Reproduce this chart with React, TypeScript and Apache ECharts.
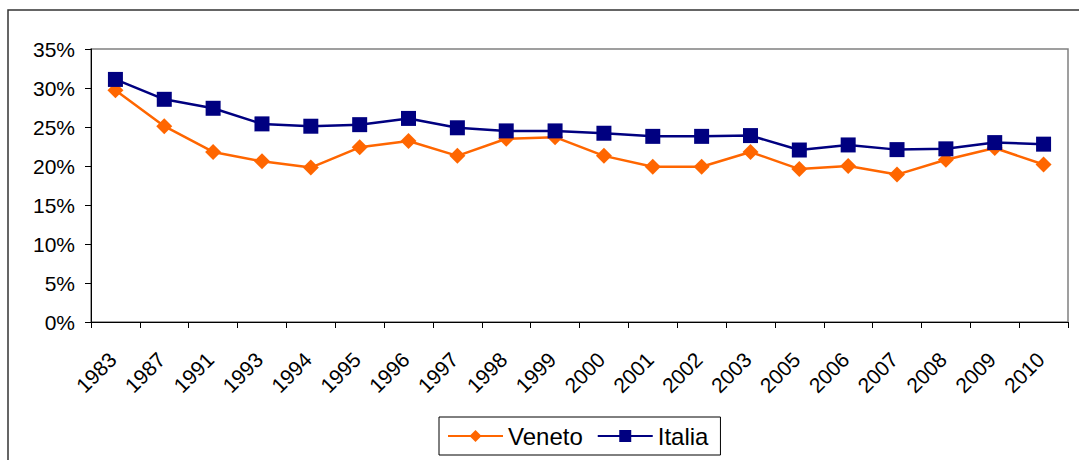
import React, { useEffect, useRef } from "react";
import * as echarts from "echarts";

const years = ["1983", "1987", "1991", "1993", "1994", "1995", "1996", "1997", "1998", "1999", "2000", "2001", "2002", "2003", "2005", "2006", "2007", "2008", "2009", "2010"];
const veneto = [29.7, 25.1, 21.8, 20.6, 19.8, 22.4, 23.2, 21.3, 23.5, 23.7, 21.3, 19.9, 19.9, 21.8, 19.6, 20.0, 18.9, 20.8, 22.3, 20.2];
const italia = [31.1, 28.55, 27.4, 25.4, 25.1, 25.3, 26.1, 24.9, 24.5, 24.5, 24.2, 23.8, 23.8, 23.9, 22.05, 22.7, 22.1, 22.2, 23.0, 22.8];
const yMin = 0;
const yMax = 35;
const yStep = 5;

const FONT = "'Liberation Sans', Arial, sans-serif";

export default function App() {
  const ref = useRef<HTMLDivElement>(null);
  useEffect(() => {
    if (!ref.current) return;
    const chart = echarts.init(ref.current, undefined, { renderer: "svg" });
    chart.setOption({
      animation: false,
      textStyle: { fontFamily: FONT },
      grid: { left: 91, right: 11, top: 49, bottom: 138, containLabel: false },
      graphic: [
        { type: "rect", z: 0, shape: { x: 8, y: 10, width: 1100, height: 500 }, style: { fill: "none", stroke: "#333", lineWidth: 1.5 } },
        { type: "rect", z: 0, shape: { x: 91, y: 49, width: 977, height: 273 }, style: { fill: "none", stroke: "#808080", lineWidth: 1.5 } },
      ],
      legend: {
        left: 439,
        top: 417,
        orient: "horizontal",
        padding: [7, 12, 7, 8],
        itemGap: 14,
        itemWidth: 55,
        itemHeight: 15,
        borderColor: "#000",
        borderWidth: 1,
        textStyle: { fontSize: 24, color: "#000", fontFamily: FONT },
        data: ["Veneto", "Italia"],
      },
      xAxis: {
        type: "category",
        data: years,
        boundaryGap: true,
        axisLine: { lineStyle: { color: "#000", width: 1 } },
        axisTick: { show: true, length: 6, lineStyle: { color: "#000" } },
        axisLabel: { rotate: 45, fontSize: 21, color: "#000", margin: 31, interval: 0, fontFamily: FONT, padding: [0, 4, 0, 0] },
        splitLine: { show: false },
      },
      yAxis: {
        type: "value",
        min: yMin,
        max: yMax,
        interval: yStep,
        axisLine: { show: true, lineStyle: { color: "#000", width: 1 } },
        axisTick: { show: true, length: 6, lineStyle: { color: "#000" } },
        axisLabel: { formatter: "{value}%", fontSize: 21, color: "#000", margin: 16, fontFamily: FONT },
        splitLine: { show: false },
      },
      series: [
        {
          name: "Veneto",
          type: "line",
          data: veneto,
          symbol: "diamond",
          symbolSize: 16,
          lineStyle: { color: "#FF6600", width: 2.5 },
          itemStyle: { color: "#FF6600" },
        },
        {
          name: "Italia",
          type: "line",
          data: italia,
          symbol: "rect",
          symbolSize: 15,
          lineStyle: { color: "#000080", width: 2.5 },
          itemStyle: { color: "#000080" },
        },
      ],
    });
    return () => chart.dispose();
  }, []);
  return (
    <div
      ref={ref}
      style={{ position: "fixed", left: 0, top: 0, width: 1079, height: 460, background: "#fff" }}
    />
  );
}
